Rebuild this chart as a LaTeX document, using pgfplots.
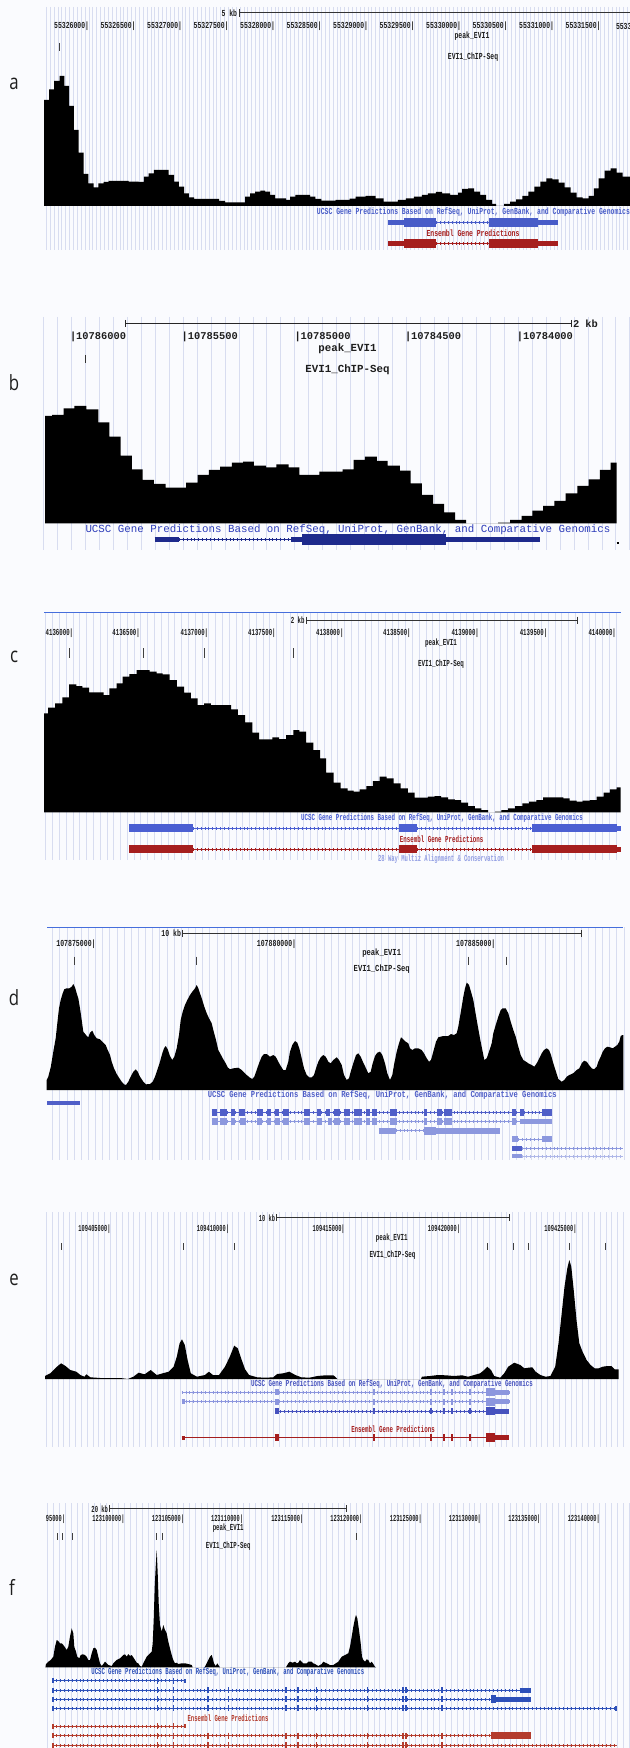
\documentclass[border=0pt]{standalone}
\usepackage{fontspec}
\usepackage{graphicx}
\usepackage{pgfplots}
\pgfplotsset{compat=1.18}
\newfontfamily\mono{Liberation Mono}
\newfontfamily\lett{Open Sans}
\definecolor{bgc}{RGB}{250,251,254}
\definecolor{gridc}{RGB}{216,221,240}
\definecolor{ga}{RGB}{72,92,200}
\definecolor{ra}{RGB}{165,30,30}
\definecolor{gb}{RGB}{30,42,140}
\definecolor{gbt}{RGB}{45,60,185}
\definecolor{gc}{RGB}{75,95,210}
\definecolor{gd}{RGB}{80,95,200}
\definecolor{gdl}{RGB}{140,152,222}
\definecolor{gel}{RGB}{140,150,222}
\definecolor{ged}{RGB}{70,82,190}
\definecolor{gf}{RGB}{45,80,185}
\definecolor{rf}{RGB}{180,60,45}
\definecolor{topl}{RGB}{70,110,220}
\definecolor{txt}{RGB}{30,30,30}
\newcommand\ut[2]{\scalebox{#1}[1]{\mono\bfseries\fontsize{4.6}{4.6}\selectfont #2}}
\newcommand\bt[2]{{\mono\bfseries\fontsize{#1}{#1}\selectfont #2}}
\newcommand\plet[1]{\scalebox{0.8}[1]{\lett\fontsize{10.5}{10.5}\selectfont #1}}
\newcommand\vbars[5]{\gdef\vb{}\foreach \xx in {#2}{\xdef\vb{\vb (\xx,#3) (\xx,#4) (\xx,nan)}}\edef\tmp{\noexpand\addplot[#1, line width=#5, forget plot] coordinates {\vb};}\tmp}
\newcommand\hbars[4]{\gdef\hb{}\foreach \xa/\xb in {#2}{\xdef\hb{\hb (\xa,#3) (\xb,#3) (\xb,nan)}}\edef\tmp{\noexpand\addplot[#1, line width=#4, forget plot] coordinates {\hb};}\tmp}
\newcommand\intron[4]{\addplot[#1, line width=0.5pt, forget plot] coordinates {(#2,#4) (#3,#4)};
\addplot[#1, line width=1.5pt, dash pattern=on 0.35pt off 1.6pt, forget plot] coordinates {(#2,#4) (#3,#4)};}
\newcommand\seg[5]{\addplot[#1, line width=#5, forget plot] coordinates {(#2,#4) (#3,#4)};}
\tikzset{t/.style={inner sep=0pt, outer sep=0pt, text=txt}}
\begin{document}
\begin{tikzpicture}
\begin{axis}[
  scale only axis, width=315pt, height=874pt,
  xmin=0, xmax=630, ymin=0, ymax=1748, y dir=reverse,
  axis lines=none, ticks=none, xtick=\empty, ytick=\empty,
  axis background/.style={fill=bgc},
  unbounded coords=jump,
]
% ================= grids =================
\vbars{gridc}{46.4,50.275,...,630}{7}{250}{0.5pt}
\vbars{gridc}{43.6,57.56,...,630}{317}{550}{0.5pt}
\vbars{gridc}{45.9,52.69,...,622}{612}{860}{0.5pt}
\vbars{gridc}{52.8,59.94,...,624}{927}{1160}{0.5pt}
\vbars{gridc}{46.4,52.23,...,625}{1212}{1447}{0.5pt}
\vbars{gridc}{47.3,53.24,...,630}{1503}{1748}{0.5pt}

% ================= panel a =================
\node[t] at (14,84) {\plet{a}};
\node[t,anchor=east] at (237,13) {\ut{0.7}{5 kb}};
\seg{black!80}{239}{630}{13}{0.5pt}
\vbars{black!80}{239}{9}{17}{0.5pt}
\node[t,anchor=east] at (89,26) {\ut{0.7}{55326000|}};
\node[t,anchor=east] at (135.5,26) {\ut{0.7}{55326500|}};
\node[t,anchor=east] at (182,26) {\ut{0.7}{55327000|}};
\node[t,anchor=east] at (228.5,26) {\ut{0.7}{55327500|}};
\node[t,anchor=east] at (275,26) {\ut{0.7}{55328000|}};
\node[t,anchor=east] at (321.5,26) {\ut{0.7}{55328500|}};
\node[t,anchor=east] at (368,26) {\ut{0.7}{55329000|}};
\node[t,anchor=east] at (414.5,26) {\ut{0.7}{55329500|}};
\node[t,anchor=east] at (461,26) {\ut{0.7}{55330000|}};
\node[t,anchor=east] at (507.5,26) {\ut{0.7}{55330500|}};
\node[t,anchor=east] at (554,26) {\ut{0.7}{55331000|}};
\node[t,anchor=east] at (600.5,26) {\ut{0.7}{55331500|}};
\node[t,anchor=west] at (616,26) {\ut{0.7}{5533}};
\node[t] at (472,36) {\ut{0.7}{peak\_EVI1}};
\vbars{black!75}{59.5}{43}{51}{0.5pt}
\node[t] at (473,57) {\ut{0.7}{EVI1\_ChIP-Seq}};
\addplot[fill=black, draw=none, const plot, forget plot] coordinates {
(44.2,206) (44.2,100) (49,89.3) (54.2,81) (59.5,76) (64.3,86) (69.1,106) (73.9,130) (78.7,152.7) (83.6,174) (88.4,183.3) (93.6,187.3) (98.4,183.3) (103.7,182) (108.5,181) (128.6,181.7) (138.6,182) (143.8,176.7) (148.7,173.3) (153.9,170) (163.9,170) (168.7,175) (174,181.7) (178.8,186.7) (184,193.3) (188.8,197.3) (194,199) (219,201) (225,202.3) (245,196.7) (250,193.3) (255,191.7) (260.3,190.7) (265.2,191.7) (270,195) (275.2,198.3) (286,200) (290,196.7) (295.3,195) (305.3,195) (310.2,196.7) (315.4,199) (321.4,200.7) (335.5,200) (349.5,198.7) (355.6,196.7) (365.6,196) (375.7,198.3) (383.7,201.7) (397.8,200) (405.8,198.3) (413.8,196.7) (421.9,195) (427.9,193.3) (435.9,192) (442,193.3) (450,195) (458,192.7) (462,189) (468,188.3) (474,191.7) (480,195) (486,200) (492,204) (496,206) (504,204) (510,201.7) (516,199.3) (522.3,196) (528.3,191.7) (534.4,186.7) (540.4,181.7) (546.4,178.3) (552.4,179.3) (558.5,182.7) (564.5,187.3) (570.5,192.7) (576.5,197.3) (582.6,198.3) (588.6,196) (593.8,188.3) (598.6,178.3) (604.7,170.7) (610.7,168.3) (616.7,172.7) (622.7,176.7) (630,176.7) (630,206)};
\node[t,anchor=east] at (630,212) {\ut{0.7}{\color{ga}UCSC Gene Predictions Based on RefSeq, UniProt, GenBank, and Comparative Genomics}};
\seg{ga}{388}{404}{223}{2.5pt}
\seg{ga}{404}{436}{223}{4.5pt}
\intron{ga}{436}{489}{223}
\seg{ga}{489}{538}{223}{4.5pt}
\seg{ga}{538}{558}{223}{2.5pt}
\node[t] at (473,233) {\ut{0.7}{\color{ra}Ensembl Gene Predictions}};
\seg{ra}{388}{404}{244}{2.5pt}
\seg{ra}{404}{436}{244}{4.5pt}
\intron{ra}{436}{489}{244}
\seg{ra}{489}{538}{244}{4.5pt}
\seg{ra}{538}{558}{244}{2.5pt}

% ================= panel b =================
\node[t] at (14,383) {\plet{b}};
\seg{black!85}{125.8}{571.3}{323.3}{0.6pt}
\vbars{black!85}{125.8,571.3}{319.8}{326.8}{0.6pt}
\node[t,anchor=west] at (573,323.3) {\bt{5.2}{2 kb}};
\node[t,anchor=west] at (70,337.3) {\bt{5.2}{|10786000}};
\node[t,anchor=west] at (181.7,337.3) {\bt{5.2}{|10785500}};
\node[t,anchor=west] at (294.5,337.3) {\bt{5.2}{|10785000}};
\node[t,anchor=west] at (405,337.3) {\bt{5.2}{|10784500}};
\node[t,anchor=west] at (516.8,337.3) {\bt{5.2}{|10784000}};
\node[t] at (347.5,348.3) {\bt{5.4}{peak\_EVI1}};
\vbars{black!80}{85.6}{355}{363.3}{0.6pt}
\node[t] at (347.5,370) {\bt{5.4}{EVI1\_ChIP-Seq}};
\addplot[fill=black, draw=none, const plot, forget plot] coordinates {
(45,523.3) (45,416) (52.2,415) (63.5,408.3) (74.3,406) (86.4,409.3) (98.4,422.3) (109.3,436.7) (120.5,455.7) (131.8,469.3) (142.6,480) (153.9,484) (165.5,487.7) (186,482.7) (197.7,475) (208.9,470) (220.2,466.7) (231.8,462.7) (243.1,461.7) (253.9,465.7) (266,467.3) (276.4,464.3) (288.5,467.3) (299.3,475) (319.4,471.7) (342.7,469.3) (353.6,460) (364.8,456.7) (376.9,461) (387.7,465.7) (399.8,470.7) (410.6,483.3) (421.9,495) (433.1,504) (444,512.3) (455.2,520) (466,523.3) (498.2,522.7) (510.2,520) (521.5,516) (532.3,510.7) (543.2,506) (554.4,501) (565.7,493.3) (577.3,486) (588.6,479.3) (599.8,470) (610.7,462.7) (616.7,462.7) (616.7,523.3)};
\node[t] at (348,530) {{\mono\fontsize{5.4}{5.4}\selectfont\color{gbt}UCSC Gene Predictions Based on RefSeq, UniProt, GenBank, and Comparative Genomics}};
\seg{gb}{154.7}{178.8}{539.7}{2.4pt}
\intron{gb}{178.8}{291.3}{539.7}
\seg{gb}{291.3}{302}{539.7}{2.4pt}
\seg{gb}{302}{446}{539.7}{5.3pt}
\seg{gb}{446}{540.4}{539.7}{2.4pt}
\seg{black}{616.5}{618.5}{542.7}{1pt}

% ================= panel c =================
\node[t] at (14,657) {\plet{c}};
\seg{topl}{44}{621}{612.3}{0.6pt}
\node[t,anchor=east] at (304.5,620) {\ut{0.62}{2 kb}};
\seg{black!80}{306}{577.3}{620}{0.5pt}
\vbars{black!80}{306,577.3}{616.5}{623.5}{0.5pt}
\node[t,anchor=east] at (73.1,633.3) {\ut{0.62}{4136000|}};
\node[t,anchor=east] at (139.8,633.3) {\ut{0.62}{4136500|}};
\node[t,anchor=east] at (208.1,633.3) {\ut{0.62}{4137000|}};
\node[t,anchor=east] at (275.6,633.3) {\ut{0.62}{4137500|}};
\node[t,anchor=east] at (343.5,633.3) {\ut{0.62}{4138000|}};
\node[t,anchor=east] at (410.6,633.3) {\ut{0.62}{4138500|}};
\node[t,anchor=east] at (478.9,633.3) {\ut{0.62}{4139000|}};
\node[t,anchor=east] at (547.2,633.3) {\ut{0.62}{4139500|}};
\node[t,anchor=east] at (615.9,633.3) {\ut{0.62}{4140000|}};
\node[t] at (441,643.3) {\ut{0.64}{peak\_EVI1}};
\vbars{black!75}{69.1,143.8,204.1,293.3}{648.3}{658.3}{0.5pt}
\node[t] at (441,664.3) {\ut{0.64}{EVI1\_ChIP-Seq}};
\addplot[fill=black, draw=none, const plot, forget plot] coordinates {
(44.2,812.3) (44.2,713.3) (48.2,707.7) (55,703.3) (62.3,697.3) (69.1,684.3) (76.3,686) (82.4,687.7) (89.2,692.3) (96.4,692.3) (103.7,695) (109.3,688.3) (116.5,683.3) (122.5,676.7) (129.4,674) (136.6,670) (143.8,670) (149.5,671.7) (156.7,673.3) (162.7,674.3) (169.5,680) (176.8,686.7) (184,692.7) (190.8,698.3) (197.7,705) (204.1,703.3) (210.9,705) (231,709.3) (237.8,715) (245.1,722.3) (252.3,732.7) (259.1,739.3) (266,739.3) (272.4,737.3) (279.2,739) (286.1,735) (293.3,730) (299.3,731.7) (306.1,742.7) (313.4,750) (320.2,758.3) (326.2,772.7) (333.5,782.7) (340.7,788.3) (347.5,790.7) (353.6,791.7) (359.6,789.3) (366.4,786) (372.8,781) (379.7,776.7) (386.5,778.3) (393.7,783.3) (400.6,788.3) (407.8,792.7) (414.6,797.7) (427.9,796.7) (434.7,796) (441.1,797.3) (448,799.3) (454.8,800) (461.2,802.7) (468.1,806) (474.9,808.3) (481.3,810) (488.1,812.3) (495,811.7) (501.4,810) (508.2,808.3) (515.1,806) (522.3,803.3) (529.1,801.7) (536.4,800) (543.2,797.3) (563.3,798.3) (569.7,800.7) (576.5,801.7) (582.6,800.7) (589.8,800) (596.6,796.7) (603.5,792.7) (609.9,789.3) (616.7,787.3) (620.7,787.3) (620.7,812.3)};
\node[t] at (442,818.3) {\ut{0.63}{\color{gc}UCSC Gene Predictions Based on RefSeq, UniProt, GenBank, and Comparative Genomics}};
\seg{gc}{129.4}{192.8}{828.3}{4pt}
\intron{gc}{192.8}{399}{828.3}
\seg{gc}{399}{417}{828.3}{4pt}
\intron{gc}{417}{532.3}{828.3}
\seg{gc}{532.3}{616.7}{828.3}{4pt}
\seg{gc}{616.7}{620.7}{828.3}{2.5pt}
\node[t] at (441.7,839.3) {\ut{0.63}{\color{ra}Ensembl Gene Predictions}};
\seg{ra}{129.4}{192.8}{849.3}{4pt}
\intron{ra}{192.8}{399}{849.3}
\seg{ra}{399}{417}{849.3}{4pt}
\intron{ra}{417}{532.3}{849.3}
\seg{ra}{532.3}{616.7}{849.3}{4pt}
\seg{ra}{616.7}{620.7}{849.3}{2.5pt}
\node[t] at (441,859) {\ut{0.6}{\color{gc!60}28 Way Multiz Alignment \& Conservation}};

% ================= panel d =================
\node[t] at (14,998) {\plet{d}};
\seg{topl}{47.4}{622.7}{927.3}{0.6pt}
\node[t,anchor=east] at (181,933.3) {\ut{0.71}{10 kb}};
\seg{black!80}{182.8}{581.8}{933.3}{0.5pt}
\vbars{black!80}{182.8,581.8}{929.8}{936.8}{0.5pt}
\node[t,anchor=east] at (95.6,944) {\ut{0.71}{107875000|}};
\node[t,anchor=east] at (296.1,944) {\ut{0.71}{107880000|}};
\node[t,anchor=east] at (495.4,944) {\ut{0.71}{107885000|}};
\node[t] at (381.7,952.7) {\ut{0.78}{peak\_EVI1}};
\vbars{black!75}{74.3,196.1,468.1,506.2}{956.7}{965}{0.5pt}
\node[t] at (381.7,969.3) {\ut{0.78}{EVI1\_ChIP-Seq}};
\addplot[fill=black, draw=none, forget plot] coordinates {
(46.7,1090) (46.7,1080) (48.3,1076.7) (50.7,1067.3) (53.3,1051.7) (55.7,1038.3) (57.3,1023.3) (59,1008.3) (60.7,1000) (62.7,993.3) (64.3,989.3) (66.7,988.3) (69.3,988.3) (71.7,986.7) (73.3,984) (75,987.3) (76.7,993.3) (78.3,998.3) (80,1008.3) (81.7,1020) (83.3,1031.7) (86,1035) (88.3,1037.3) (90,1032.7) (92.3,1030.7) (94.3,1035) (96.7,1038.3) (100,1039.3) (103.3,1042.7) (105.7,1045) (107.7,1050) (110,1055) (111.7,1061.7) (114,1068.3) (116.7,1074) (119,1077.7) (121.7,1081.7) (124,1084.3) (126,1085) (128.3,1081.7) (130.7,1076.7) (133.3,1071.7) (135.7,1069.3) (137.7,1071.7) (140,1076.7) (143.3,1081.7) (146,1084.3) (150,1084) (152.7,1081.7) (155,1076.7) (157.3,1070) (160,1061.7) (162.3,1053.3) (164,1048.3) (165.7,1046) (167.7,1049.3) (170,1056) (172.3,1060) (174.3,1056.7) (176.7,1048.3) (179,1035) (180.7,1020) (182.7,1011.7) (185,1005) (187.3,1000) (190,995) (192.3,991.7) (195,988.3) (196.7,985) (198.3,988.3) (200,993.3) (202.3,1000) (204.3,1006.7) (206.7,1013.3) (209,1018.3) (211.7,1023.3) (213.3,1030) (216,1040) (218.3,1050) (221,1055) (223.3,1059.3) (225.7,1063.3) (227.7,1067.3) (230,1069.3) (233.3,1068.3) (238.3,1067.7) (241.7,1070) (244.3,1072.7) (246.7,1075) (250,1077.7) (252.3,1079) (254.3,1076.7) (256.7,1070) (259,1063.3) (261.7,1056.7) (264,1054) (266.7,1054) (270,1056.7) (273.3,1055) (275.7,1056.7) (278.3,1061.7) (280.7,1066) (283.3,1070) (285.7,1070) (288.3,1061.7) (290,1051.7) (292.3,1045) (295,1041) (297.3,1042.7) (299.3,1048.3) (301.7,1058.3) (304,1068.3) (306.7,1075) (309.3,1077.3) (311.7,1077.3) (314,1075) (316,1068.3) (318.3,1061.7) (320.7,1057.3) (323.3,1055) (325.7,1056.7) (328.3,1061.7) (330.7,1063.3) (333.3,1060) (336.7,1057.3) (339,1060) (341.7,1065) (344,1075) (346.7,1080) (349,1078.3) (350.7,1071.7) (353.3,1063.3) (356,1055) (358.3,1053.3) (360.7,1056.7) (363.3,1062.7) (366,1068.3) (368.3,1073.3) (370.7,1071.7) (372.7,1063.3) (375,1056) (377.3,1052.7) (380,1051.7) (382.3,1055) (385,1063.3) (387.3,1073.3) (390,1080) (392.3,1075) (394.3,1063.3) (396.7,1051.7) (399,1043.3) (401,1037.3) (403.3,1039.3) (405.7,1041.7) (408.3,1043.3) (410,1048.3) (412.3,1050) (415,1048.3) (418.3,1048.3) (421.7,1050) (424,1053.3) (426.7,1058.3) (429,1061.7) (431,1060) (433.3,1051.7) (436,1041.7) (438.3,1037.3) (443.3,1036) (448.3,1036) (451,1034) (454,1035) (456.7,1033.3) (458.3,1026.7) (460,1016.7) (461.7,1006.7) (463.3,996.7) (465,988.3) (466.7,982.7) (469,985) (471,991.7) (473.3,1000) (475,1010) (477.3,1023.3) (480,1038.3) (482.3,1050) (484.3,1060) (486.7,1058.3) (489,1051.7) (491.7,1043.3) (493.3,1033.3) (495.7,1025) (498.3,1016.7) (500.7,1010) (502.7,1008.3) (505.7,1008.3) (508.3,1013.3) (510.7,1021.7) (513.3,1030) (515.7,1036.7) (518.3,1046.7) (520.7,1055) (523.3,1060) (526,1061.7) (528.3,1063.3) (531.7,1065) (534.3,1066.7) (536.7,1063.3) (539.3,1058.3) (541.7,1053.3) (544,1050) (546.7,1048.3) (549,1050) (551,1055) (553.3,1063.3) (556,1071.7) (558.3,1079) (561.7,1081.7) (564.3,1080) (566.7,1076.7) (569.3,1075) (571.7,1074) (574,1072.7) (576.7,1070) (579.3,1068.3) (581.7,1063.3) (584,1060.7) (586.7,1061.7) (589,1065) (591.7,1068.3) (594,1069.3) (596.7,1066.7) (598.3,1061.7) (600.7,1056.7) (602.7,1051.7) (605,1048.3) (607.3,1046.7) (610,1047.3) (612.7,1048.3) (615,1046.7) (617.3,1045) (619.3,1041.7) (620.7,1036) (622.7,1035) (623.3,1035) (623.3,1090)};
\node[t] at (382.3,1095) {\ut{0.78}{\color{gd}UCSC Gene Predictions Based on RefSeq, UniProt, GenBank, and Comparative Genomics}};
\seg{gd}{47.4}{79.5}{1103.3}{2pt}
\intron{gd}{211.7}{552.4}{1112.3}
\hbars{gd}{211.7/217,220.2/227,231/235,239/245.1,257.1/263.2,267.2/271.2,275.2/279.2,283.2/288.5,304.1/310.2,317.4/321.4,326.2/330.3,333.5/339.5,343.5/350.3,353.6/361.6,365.6/369.6,372.4/376.9,389.7/397,423.9/426.7,437.1/442,444/452,512.2/516.3,520.3/524.3,542.4/552.4}{1112.3}{3.5pt}
\intron{gdl}{211.7}{552.4}{1121.7}
\hbars{gdl}{211.7/218,220.2/227,231/235,240/246,257.1/262,267.2/271.2,275.2/280,283.2/288.5,304.1/310.2,317.4/322,327.5/331.5,333.5/339.5,343.5/349.5,353.6/361.6,365.6/369.6,372.4/376.9,389.7/397,423.9/426.7,437.1/442,444/452,512.2/516.3}{1121.7}{3.5pt}
\seg{gdl}{520.3}{552.4}{1121.7}{2.5pt}
\seg{gdl}{378.5}{395.7}{1130.7}{3pt}
\intron{gdl}{395.7}{423.9}{1130.7}
\seg{gdl}{423.9}{436}{1130.7}{4pt}
\seg{gdl}{436}{500.2}{1130.7}{3pt}
\seg{gdl}{512.2}{518.3}{1139.3}{3pt}
\intron{gdl}{518.3}{542.4}{1139.3}
\seg{gdl}{542.4}{552.4}{1139.3}{3pt}
\seg{gd}{512.2}{522.3}{1148.3}{2.5pt}
\intron{gdl}{522.3}{622.7}{1148.3}
\seg{gdl}{512.2}{522.3}{1156}{2pt}
\intron{gdl!70}{522.3}{622.7}{1156}

% ================= panel e =================
\node[t] at (14,1280) {\plet{e}};
\node[t,anchor=east] at (275,1217.7) {\ut{0.58}{10 kb}};
\seg{black!80}{276.4}{509}{1217.7}{0.5pt}
\vbars{black!80}{276.4,509}{1214.2}{1221.2}{0.5pt}
\node[t,anchor=east] at (110.5,1229) {\ut{0.58}{109405000|}};
\node[t,anchor=east] at (229,1229) {\ut{0.58}{109410000|}};
\node[t,anchor=east] at (344.7,1229) {\ut{0.58}{109415000|}};
\node[t,anchor=east] at (460,1229) {\ut{0.58}{109420000|}};
\node[t,anchor=east] at (576.5,1229) {\ut{0.58}{109425000|}};
\node[t] at (391.7,1237.7) {\ut{0.64}{peak\_EVI1}};
\vbars{black!75}{61.5,183.2,234.2,487.3,513.5,528.7,569.7,605.5}{1243.3}{1250}{0.5pt}
\node[t] at (392.5,1255) {\ut{0.64}{EVI1\_ChIP-Seq}};
\addplot[fill=black, draw=none, forget plot] coordinates {
(45,1379) (45,1376) (50.2,1373.3) (56.2,1367.3) (61.1,1363.3) (65.5,1366) (70.3,1370) (76.3,1371.7) (80.4,1375) (84.4,1376.7) (86.4,1374.3) (90.4,1377.3) (100.4,1378) (120.5,1378) (127.8,1379) (133.4,1376.7) (138.6,1372.7) (144.6,1374.3) (150.7,1370) (156.7,1375) (162.7,1373.3) (168.7,1371.7) (173.6,1366.7) (176.8,1356.7) (179.6,1343.3) (182,1339.3) (184.8,1345) (187.6,1360) (190.8,1373.3) (196.9,1376.7) (204.9,1375) (208.9,1371.7) (212.9,1375) (219,1375) (225,1366.7) (229.8,1356.7) (234.2,1345.7) (237.8,1348.3) (241.1,1358.3) (245.1,1369.3) (249.1,1375) (257.1,1377.3) (265.2,1377.7) (273.2,1377.3) (277.2,1374) (283.2,1373.3) (289.3,1371.7) (295.3,1375) (301.3,1377.3) (309.4,1377.7) (317.4,1376) (325.4,1375.3) (333.5,1375.3) (337.5,1379) (421,1379) (421.9,1376.7) (429.9,1376) (437.9,1375) (446,1375.3) (454,1376) (462,1375.3) (468.1,1376.7) (474.1,1375) (480.1,1373.3) (484.1,1370) (487.3,1366.7) (491,1370) (494.2,1376) (500.2,1377.7) (504.2,1373.3) (508.2,1366.7) (514.3,1362.7) (520.3,1365) (524.3,1368.3) (528.3,1367.7) (532.3,1367.3) (535.6,1371.7) (540.4,1375) (545.6,1376.7) (550.4,1376) (555.2,1366.7) (558.5,1343.3) (561.7,1313.3) (564.5,1286.7) (567.3,1268.3) (569.3,1260) (571.3,1266.7) (573.7,1290) (576.5,1320) (579.3,1343.3) (582.6,1351.7) (586.6,1360) (590.6,1365) (594.6,1368.3) (598.6,1368.3) (602.6,1366.7) (607.5,1366) (611.5,1366) (614.7,1369.3) (618.7,1369.3) (618.7,1379)};
\node[t] at (392,1384) {\ut{0.63}{\color{ged}UCSC Gene Predictions Based on RefSeq, UniProt, GenBank, and Comparative Genomics}};
\intron{gel}{181.6}{509.4}{1392.3}
\hbars{gel}{274.6/278.6,430.3/432,443.2/445,451.2/453,469.2/471}{1392.3}{3pt}
\seg{gel}{372.8}{374.8}{1392.3}{3pt}
\seg{gel}{486}{495.4}{1392.3}{4pt}
\seg{gel}{495.4}{509.4}{1392.3}{2.5pt}
\intron{gel}{181.6}{509.4}{1401.7}
\seg{gel}{181.6}{184.8}{1401.7}{2.5pt}
\hbars{gel}{274.6/278.6,372.8/374.8,430.3/432,443.2/445,451.2/453,469.2/471}{1401.7}{3pt}
\seg{gel}{486}{495.4}{1401.7}{4pt}
\seg{gel}{495.4}{509.4}{1401.7}{2.5pt}
\intron{ged}{276.4}{509.4}{1411}
\hbars{ged}{274.6/278.6,372.8/374.8,430.3/432,443.2/445,451.2/453,469.2/471}{1411}{3pt}
\seg{ged}{486}{495.4}{1411}{4pt}
\seg{ged}{495.4}{509.4}{1411}{2.5pt}
\node[t] at (393,1429.3) {\ut{0.63}{\color{ra}Ensembl Gene Predictions}};
\seg{ra}{181.6}{509.4}{1437.7}{0.6pt}
\seg{ra}{181.6}{184.8}{1437.7}{2pt}
\hbars{ra}{274.6/278.6,372.8/374.8,430.3/432.3,443/445,451/453,469/471}{1437.7}{3.5pt}
\seg{ra}{486}{495.4}{1437.7}{4.5pt}
\seg{ra}{495.4}{509.4}{1437.7}{2.5pt}

% ================= panel f =================
\node[t] at (12,1587) {\plet{f}};
\node[t,anchor=east] at (108,1508.7) {\ut{0.6}{20 kb}};
\seg{black!80}{109.3}{346.9}{1508.7}{0.5pt}
\vbars{black!80}{109.3,346.9}{1505.2}{1512.2}{0.5pt}
\node[t,anchor=east] at (65.1,1519.3) {\ut{0.58}{95000|}};
\node[t,anchor=east] at (124.5,1519.3) {\ut{0.58}{123100000|}};
\node[t,anchor=east] at (184,1519.3) {\ut{0.58}{123105000|}};
\node[t,anchor=east] at (243.1,1519.3) {\ut{0.58}{123110000|}};
\node[t,anchor=east] at (303.3,1519.3) {\ut{0.58}{123115000|}};
\node[t,anchor=east] at (362.4,1519.3) {\ut{0.58}{123120000|}};
\node[t,anchor=east] at (421.9,1519.3) {\ut{0.58}{123125000|}};
\node[t,anchor=east] at (480.9,1519.3) {\ut{0.58}{123130000|}};
\node[t,anchor=east] at (540.4,1519.3) {\ut{0.58}{123135000|}};
\node[t,anchor=east] at (599.8,1519.3) {\ut{0.58}{123140000|}};
\node[t] at (228.2,1528.3) {\ut{0.62}{peak\_EVI1}};
\vbars{black!75}{57.5,62.3,72.3,156.7,162.7,356.8}{1533.3}{1540}{0.5pt}
\node[t] at (228.2,1545.7) {\ut{0.62}{EVI1\_ChIP-Seq}};
\addplot[fill=black, draw=none, forget plot] coordinates {
(45.4,1667.3) (46,1664) (48.3,1661.7) (50.7,1660) (53.3,1656.7) (55,1646.7) (56.7,1640) (58.3,1641) (60,1643.3) (61.7,1643.3) (63.3,1645) (65,1647.3) (66.7,1650) (68.3,1646.7) (70,1636.7) (71.7,1628.3) (73.3,1633.3) (74.3,1646.7) (76,1651.7) (77.3,1656.7) (79.3,1658.3) (80.7,1655) (82.7,1654.3) (85,1655) (86.7,1656.7) (88.3,1660) (90,1660) (91.7,1653.3) (93.3,1648.3) (95,1647.7) (96.7,1650) (98.3,1656.7) (100,1663.3) (101.7,1666) (103.3,1664) (105,1661.7) (106.7,1663.3) (108.3,1665) (111.7,1666) (113.3,1663.3) (115,1661.7) (116.7,1660) (120,1658.3) (121.7,1656.7) (123.3,1655) (125,1654.3) (126.7,1656.7) (128.3,1654) (130,1656) (131.7,1655) (133.3,1657.3) (135,1660) (136.7,1662.7) (138.3,1663.3) (140,1666) (141.7,1666.7) (143.3,1663.3) (145,1660) (146.7,1656.7) (148.3,1655) (150,1653.3) (151.7,1651.7) (152.7,1643.3) (153.7,1620) (154.7,1586.7) (155.7,1566.7) (156.7,1550) (157.7,1573.3) (158.7,1603.3) (160,1625) (161.7,1631.7) (163.3,1625) (165,1630) (166.7,1633.3) (168.3,1641.7) (170,1648.3) (171.7,1655) (173.3,1660) (175,1663.3) (176.7,1662.7) (178.3,1664) (181.7,1663.3) (185,1663.3) (188.3,1664) (191.7,1665) (192.7,1667.3) (204,1667.3) (205,1666.7) (206.7,1663.3) (208.3,1660) (210,1656.7) (211.7,1655) (212.7,1658.3) (214,1663.3) (215.7,1666) (217.3,1663.3) (219,1666) (220,1667.3) (286,1667.3) (286.7,1666) (288.3,1663.3) (290,1661.7) (292.7,1662.7) (295,1661.7) (296.7,1663.3) (298.3,1662.7) (300,1660) (301.7,1661.7) (303.3,1663.3) (306.7,1663.3) (308.3,1661.7) (311.7,1661.7) (313.3,1663.3) (315,1664) (318.3,1666) (321.7,1664) (323.3,1661.7) (326.7,1663.3) (330,1665) (333.3,1665) (338.3,1661.7) (341.7,1656.7) (345,1655) (348.3,1653.3) (350,1646.7) (351.7,1636.7) (353.3,1626.7) (355,1618.3) (356,1615) (357.3,1618.3) (359,1630) (360.7,1643.3) (362,1656.7) (363.3,1660) (365,1661.7) (366.7,1659.3) (368.3,1660) (370,1663.3) (371.7,1661.7) (373.3,1664) (375,1666.7) (376,1667.3)};
\node[t] at (227.8,1672.3) {\ut{0.61}{\color{gf}UCSC Gene Predictions Based on RefSeq, UniProt, GenBank, and Comparative Genomics}};
\intron{gf}{52.2}{185.6}{1680.7}
\vbars{gf}{157.5,173.6}{1677.7}{1683.7}{0.6pt}
\seg{gf}{183.6}{186}{1680.7}{2pt}
\seg{gf}{52.2}{54}{1680.7}{2.5pt}
\intron{gf}{52.2}{531.1}{1690}
\vbars{gf}{157.5,173.6,208.1,228.2,286.1,298.1,316.6,367.6,403,405.8,442}{1687}{1693}{0.7pt}
\seg{gf}{519.5}{531.1}{1690}{2.5pt}
\seg{gf}{52.2}{54}{1690}{2.5pt}
\intron{gf}{52.2}{531.1}{1699.3}
\vbars{gf}{157.5,173.6,208.1,228.2,286.1,298.1,316.6,367.6,403,405.8,442}{1696.3}{1702.3}{0.7pt}
\seg{gf}{491}{496}{1699.3}{4pt}
\seg{gf}{496}{531.1}{1699.3}{2.5pt}
\seg{gf}{52.2}{54}{1699.3}{2.5pt}
\intron{gf}{52.2}{616.7}{1708.3}
\vbars{gf}{157.5,173.6,208.1,228.2,286.1,298.1,316.6,367.6,403,405.8,442}{1705.3}{1711.3}{0.7pt}
\seg{gf}{52.2}{54}{1708.3}{2.5pt}
\seg{gf}{615}{617}{1708.3}{2.5pt}
\node[t] at (228,1717.7) {\ut{0.61}{\color{rf}Ensembl Gene Predictions}};
\intron{rf}{52.2}{185.6}{1726}
\vbars{rf}{157.5,173.6}{1723}{1729}{0.6pt}
\seg{rf}{183.6}{186}{1726}{2pt}
\seg{rf}{52.2}{54}{1726}{2.5pt}
\intron{rf}{52.2}{531.1}{1735.7}
\vbars{rf}{157.5,173.6,208.1,228.2,286.1,298.1,316.6,367.6,403,405.8,442}{1732.7}{1738.7}{0.7pt}
\seg{rf}{491}{531.1}{1735.7}{3.5pt}
\seg{rf}{52.2}{54}{1735.7}{2.5pt}
\intron{rf}{52.2}{616.7}{1745}
\vbars{rf}{157.5,173.6,208.1,228.2,286.1,298.1,316.6,367.6,403,405.8,442}{1742}{1748}{0.7pt}
\seg{rf}{52.2}{54}{1745}{2.5pt}
\end{axis}
\end{tikzpicture}
\end{document}
